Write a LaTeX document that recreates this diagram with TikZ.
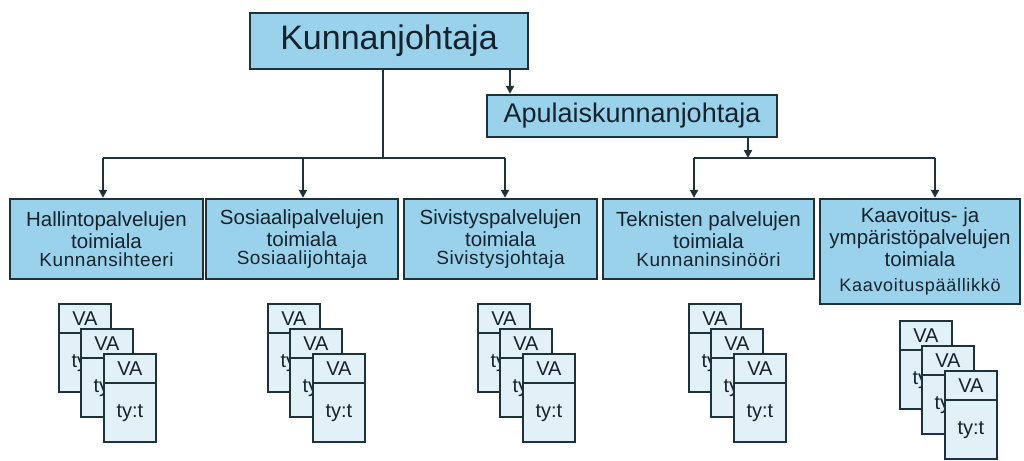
\documentclass[tikz,border=0pt]{standalone}
\usepackage{fontspec}
\setmainfont{Liberation Sans}
\usetikzlibrary{arrows.meta}
\definecolor{boxfill}{RGB}{155,210,235}
\definecolor{cardfill}{RGB}{226,240,248}
\definecolor{edge}{RGB}{30,50,60}
\definecolor{ink}{RGB}{20,35,45}
\tikzset{
  orgbox/.style={draw=edge, line width=2.4pt, fill=boxfill, text=ink, align=center, inner sep=0pt},
  deptbox/.style={orgbox, minimum height=80pt, font=\fontsize{20.5}{22}\selectfont},
  cardbox/.style={draw=edge, line width=1.8pt, fill=cardfill, minimum width=52pt, minimum height=88pt, inner sep=0pt, anchor=north west},
  cardtxt/.style={text=ink, font=\fontsize{20}{22}\selectfont, inner sep=0pt},
  conn/.style={draw=edge, line width=2pt},
  arr/.style={conn, -{Triangle[length=8pt,width=8pt]}},
}
\newcommand{\mycard}[3]{%
  \node[cardbox] (#1) at (#2,#3) {};
  \draw[conn, line width=1.6pt] ([yshift=-30pt]#1.north west) -- ([yshift=-30pt]#1.north east);
  \node[cardtxt] (#1va) at ([yshift=-16pt]#1.north) {VA};
  \node[cardtxt] (#1ty) at ([yshift=-60pt]#1.north) {ty:t};
}
\newcommand{\mystack}[3]{%
  \mycard{#1a}{#2}{#3}
  \mycard{#1b}{#2+22}{#3+25}
  \mycard{#1c}{#2+45}{#3+50}
}
\newcommand{\smfont}{\fontsize{19}{19}\selectfont\addfontfeature{LetterSpace=3}}
\begin{document}
\begin{tikzpicture}[x=1pt,y=-1pt]
\useasboundingbox (0,0) rectangle (1024,460);
\fill[white] (0,0) rectangle (1024,460);

\node[orgbox, minimum width=278pt, minimum height=56pt, font=\fontsize{34}{36}\selectfont] (kj) at (389,41) {Kunnanjohtaja};
\node[orgbox, minimum width=290pt, minimum height=42pt, font=\fontsize{27}{29}\selectfont] (ap) at (632,116) {Apulaiskunnanjohtaja};

\node[deptbox, minimum width=193pt] (b1) at (106.5,239) {Hallintopalvelujen\\toimiala\\[-4pt]{\smfont Kunnansihteeri}};
\node[deptbox, minimum width=192pt] (b2) at (302,239) {Sosiaalipalvelujen\\toimiala\\[-4pt]{\smfont Sosiaalijohtaja}};
\node[deptbox, minimum width=193pt] (b3) at (500.5,239) {Sivistyspalvelujen\\toimiala\\[-4pt]{\smfont Sivistysjohtaja}};
\node[deptbox, minimum width=211pt] (b4) at (708.5,239) {Teknisten palvelujen\\toimiala\\[-4pt]{\smfont Kunnaninsinööri}};
\node[orgbox, minimum width=200pt, minimum height=105pt, font=\fontsize{20.5}{22}\selectfont] (b5) at (920,251.5) {Kaavoitus- ja\\ympäristöpalvelujen\\toimiala\\[3pt]{\fontsize{18}{17}\selectfont\addfontfeature{LetterSpace=4}Kaavoituspäällikkö}};

% bus coordinates
\coordinate (t0) at (383,158);
\coordinate (t1) at (103,158);
\coordinate (t2) at (303,158);
\coordinate (t3) at (505,158);
\coordinate (t4) at (694,158);
\coordinate (t5) at (935,158);
\coordinate (t6) at (748,158);
\coordinate (a1) at (510,0);

\draw[conn] (kj.south -| t0) -- (t0);
\draw[conn] (t1) -- (t3);
\draw[arr] (t1) -- (b1.north -| t1);
\draw[arr] (t2) -- (b2.north -| t2);
\draw[arr] (t3) -- (b3.north -| t3);
\draw[arr] (kj.south -| a1) -- (ap.north -| a1);
\draw[arr] (ap.south -| t6) -- (t6);
\draw[conn] (t4) -- (t5);
\draw[arr] (t4) -- (b4.north -| t4);
\draw[arr] (t5) -- (b5.north -| t5);

\mystack{s1}{58}{303}
\mystack{s2}{267}{303}
\mystack{s3}{477}{303}
\mystack{s4}{688}{303}
\mystack{s5}{899}{320}
\end{tikzpicture}
\end{document}
